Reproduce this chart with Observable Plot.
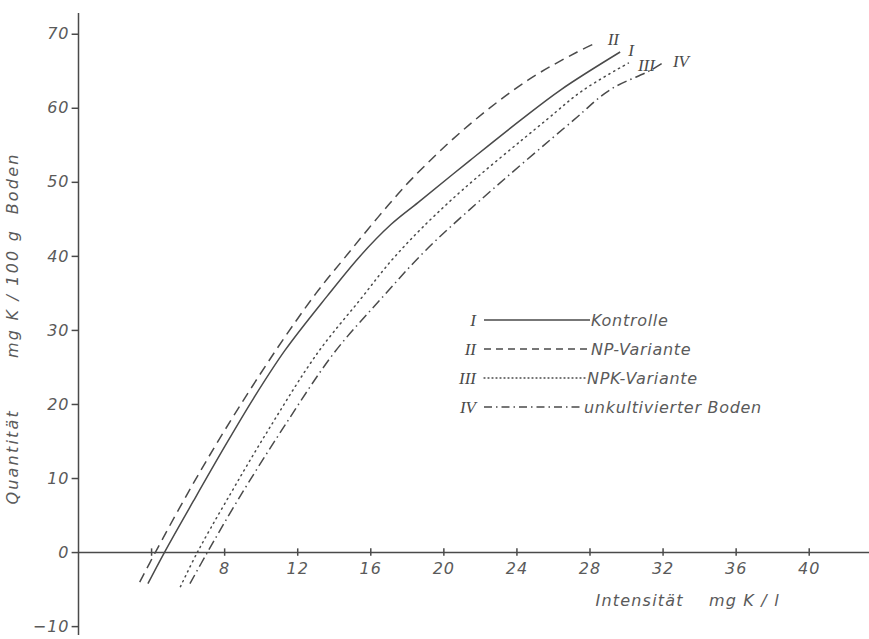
<!DOCTYPE html>
<html><head><meta charset="utf-8">
<script src="https://cdn.jsdelivr.net/npm/d3@7"></script>
<script src="https://cdn.jsdelivr.net/npm/@observablehq/plot@0.6"></script>
<style>
body{margin:0;background:#fff;}
#wrap{position:relative;width:869px;height:639px;}
#wrap svg text{white-space:pre;}
#legend{position:absolute;left:0;top:0;pointer-events:none;}
</style></head><body><div id="wrap"></div>
<script>
const curveNames = ["I", "II", "III", "IV"];
const legendLabels = ["Kontrolle", "NP-Variante", "NPK-Variante", "unkultivierter Boden"];

// Intensität (mg K / l) and Quantität (mg K / 100 g Boden)
const intensityI   = [3.8, 4.7, 6.3, 8.0, 9.6, 11.3, 13.6, 15.4, 17.1, 18.6, 21.4, 24.2, 26.4, 29.65];
const quantityI    = [-4.2, 0, 7.0, 14.3, 20.9, 27.3, 34.6, 40.0, 44.3, 47.3, 52.9, 58.4, 62.5, 67.6];
const intensityII  = [3.35, 4.2, 6.0, 8.0, 10.8, 13.0, 14.6, 16.4, 18.3, 21.4, 24.6, 27.3, 28.4];
const quantityII   = [-4.0, 0, 8.1, 16.5, 27.3, 35.0, 39.9, 45.3, 50.6, 57.8, 63.8, 67.6, 68.9];
const intensityIII = [5.58, 6.5, 8.1, 10.5, 13.1, 15.4, 17.4, 20.4, 25.6, 27.6, 30.1];
const quantityIII  = [-4.6, 0, 7.0, 17.0, 27.0, 34.1, 40.2, 47.6, 58.4, 62.4, 66.1];
const intensityIV  = [6.1, 7.05, 8.7, 11.25, 14.0, 16.5, 19.0, 22.0, 27.1, 29.1, 31.3, 32.1];
const quantityIV   = [-4.2, 0, 7.0, 17.0, 27.0, 34.1, 40.8, 47.6, 58.4, 62.5, 65.1, 66.3];

const xTicks = [4, 8, 12, 16, 20, 24, 28, 32, 36, 40];
const xTickLabels = [8, 12, 16, 20, 24, 28, 32, 36, 40];
const yTicks = [-10, 0, 10, 20, 30, 40, 50, 60, 70];

const xLabel = "Intensität    mg K / l";
const yLabel = "Quantität       mg K / 100 g  Boden";

const ink = "#4a4a4a";
const textInk = "#5a5a5a";
const sansFont = "'DejaVu Sans', 'Liberation Sans', sans-serif";
const serifFont = "'Liberation Serif', 'DejaVu Serif', serif";

const intensities = [intensityI, intensityII, intensityIII, intensityIV];
const quantities = [quantityI, quantityII, quantityIII, quantityIV];
const dashes = [null, "10,6", "1.2,4.3", "10,4,1.5,4"];
const endOffsets = [[11, -1], [16, -3], [18, 2], [16, 0]];

const seriesData = curveNames.map((name, i) =>
  intensities[i].map((x, j) => ({curve: name, x, y: quantities[i][j]})));

const lineMarks = seriesData.map((rows, i) => Plot.line(rows, {
  x: "x", y: "y", curve: "catmull-rom",
  stroke: ink, strokeWidth: 1.5,
  strokeDasharray: dashes[i], strokeLinecap: i === 2 ? "round" : "butt"
}));

const endLabelMarks = seriesData.map((rows, i) => Plot.text([rows[rows.length - 1]], {
  x: "x", y: "y", text: "curve", dx: endOffsets[i][0], dy: endOffsets[i][1],
  fontFamily: serifFont, fontStyle: "italic", fontSize: 17, fill: ink
}));

const chart = Plot.plot({
  width: 869, height: 639,
  marginLeft: 78, marginRight: 0, marginTop: 13, marginBottom: 4,
  x: {type: "linear", domain: [0, 43.3], axis: null},
  y: {type: "linear", domain: [-11.2, 72.8], axis: null},
  style: {background: "#fff"},
  marks: [
    Plot.ruleY([0], {stroke: ink, strokeWidth: 1.5}),
    Plot.ruleX([0], {stroke: ink, strokeWidth: 1.5}),
    Plot.ruleX(xTicks, {x: d => d, y1: -0.5, y2: 0.5, stroke: ink, strokeWidth: 1.5}),
    Plot.text(xTickLabels, {x: d => d, y: 0, dy: 16, text: d => String(d),
      fontFamily: sansFont, fontStyle: "italic", fontSize: 16, fill: textInk}),
    Plot.ruleY(yTicks, {y: d => d, x1: -0.35, x2: 0, stroke: ink, strokeWidth: 1.5}),
    Plot.text(yTicks, {y: d => d, x: 0, dx: -9, textAnchor: "end",
      text: d => d < 0 ? "\u2212" + Math.abs(d) : String(d),
      fontFamily: sansFont, fontStyle: "italic", fontSize: 16, fill: textInk}),
    Plot.text([xLabel], {x: 28.3, y: 0, dy: 48, textAnchor: "start", text: d => d,
      fontFamily: sansFont, fontStyle: "italic", fontSize: 16, fill: textInk}),
    Plot.text([yLabel], {frameAnchor: "left", textAnchor: "middle", dx: -66, dy: 4, rotate: -90,
      text: d => d,
      fontFamily: sansFont, fontStyle: "italic", fontSize: 16, fill: textInk}),
    ...lineMarks,
    ...endLabelMarks
  ]
});

// letter spacing for the stencil-like lettering
const spacing = new Map([[xLabel, 1.2], [yLabel, 2.2]]);
d3.select(chart).selectAll("text").each(function() {
  const t = this.textContent;
  if (spacing.has(t)) this.style.letterSpacing = spacing.get(t) + "px";
  else if (/^[\u22120-9]+$/.test(t)) this.style.letterSpacing = "1px";
});

const wrap = document.getElementById("wrap");
wrap.appendChild(chart);

// Legend drawn over the plot area
const legend = d3.select(wrap).append("svg").attr("id", "legend")
  .attr("width", 869).attr("height", 639);
const rowTops = [320, 349, 378, 407];
const legendDashes = [null, "7,5", "1,3", "8,4,1.5,4"];
const legendTextX = [591, 591, 587, 584];
curveNames.forEach((name, i) => {
  const g = legend.append("g").attr("transform", `translate(0,${rowTops[i]})`);
  g.append("text").attr("x", 476).attr("y", 0).attr("dy", "0.35em")
    .attr("text-anchor", "end").attr("font-family", serifFont).attr("font-style", "italic")
    .attr("font-size", 17).attr("fill", ink).text(name);
  g.append("line").attr("x1", 484).attr("x2", legendTextX[i] - 1).attr("y1", 0).attr("y2", 0)
    .attr("stroke", ink).attr("stroke-width", 1.3)
    .attr("stroke-dasharray", legendDashes[i])
    .attr("stroke-linecap", i === 2 ? "round" : "butt");
  g.append("text").attr("x", legendTextX[i]).attr("y", 0).attr("dy", "0.35em")
    .attr("font-family", sansFont).attr("font-style", "italic").attr("letter-spacing", 0.7)
    .attr("font-size", 16).attr("fill", textInk).text(legendLabels[i]);
});
</script></body></html>
